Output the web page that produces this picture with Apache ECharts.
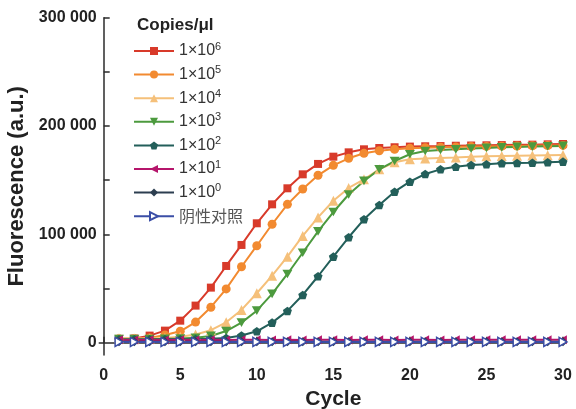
<!DOCTYPE html>
<html><head><meta charset="utf-8">
<script src="https://cdn.jsdelivr.net/npm/echarts@6/dist/echarts.min.js"></script>
<style>html,body{margin:0;padding:0;background:#fff}#c{width:576px;height:409px}</style>
</head><body><div id="c"></div>
<script>
const cycles = [1,2,3,4,5,6,7,8,9,10,11,12,13,14,15,16,17,18,19,20,21,22,23,24,25,26,27,28,29,30];
const yTickValues = [50000,100000,150000,200000,250000,300000];
const yLabelValues = [0,100000,200000,300000];
const seriesNames = ['1×10^6','1×10^5','1×10^4','1×10^3','1×10^2','1×10^1','1×10^0','阴性对照'];
const legendTitle = 'Copies/μl';
const e6 = [3500,3800,6500,11100,20300,34200,50800,70800,90200,110200,127700,142500,155400,165000,171700,175700,178500,179700,180400,181000,181300,181500,181800,182000,182200,182400,182600,182800,183100,183400];
const e5 = [3500,3600,4300,7100,10500,19000,32700,49600,70100,89500,109300,127700,141900,154500,163700,170200,174800,177200,178500,179400,180000,180400,180700,181000,181200,181400,181600,181800,182000,182100];
const e4 = [4000,3800,3800,4300,5500,7500,11500,18800,30200,45600,61800,79400,98500,115600,131000,142800,150800,160000,166500,169300,170000,170500,171000,171700,172000,172300,172600,172800,173000,173200];
const e3 = [3200,3200,3300,3500,3800,4500,6200,10700,18500,29500,45000,63400,83000,102800,120600,136800,149300,160000,167700,173900,176900,177900,178500,179200,179800,180300,180700,181000,181300,181600];
const e2 = [3000,3000,3000,3100,3200,3300,3600,4300,6600,10500,18500,29300,44000,61300,79400,97300,113900,127100,139400,148600,155700,160000,162400,164000,164700,165600,165900,166100,166600,167100];
const e1 = [2600,2500,2600,2500,2600,2500,2600,2500,2600,2600,2500,2600,2500,2600,2600,2500,2600,2600,2500,2600,2600,2500,2600,2600,2700,2600,2600,2700,2600,2700];
const e0 = [900,900,900,900,900,900,900,900,900,900,900,900,900,900,900,900,900,900,900,900,900,900,900,900,900,900,900,900,900,900];
const neg = [700,700,700,700,700,700,700,700,700,700,700,700,700,700,700,700,700,700,700,700,700,700,700,700,700,700,700,700,700,700];

const values = [e6,e5,e4,e3,e2,e1,e0,neg];
const colors = ['#d83a2a','#f28a30','#f5c07a','#4c9a3e','#235f5a','#b5156b','#2c3e50','#3b4ea6'];
const symbols = ['rect','circle','triangle','path://M0,0L2,0L1,1.732Z','path://M1,0L1.951,0.691L1.588,1.809L0.412,1.809L0.049,0.691Z','path://M0,1L1.732,0L1.732,2Z','diamond','path://M0,0L1.732,1L0,2Z'];
const sizes = [8,9,10,10,9,9,9,9];

const FONT = 'Arial, "Liberation Sans", "Noto Sans CJK SC", sans-serif';
const chart = echarts.init(document.getElementById('c'), null, {renderer:'canvas'});

function fmtThousands(v){ return String(v).replace(/\B(?=(\d{3})+(?!\d))/g,' '); }

const series = seriesNames.map((n,i)=>{
  const isNeg = i===7;
  return {
    name: n, type:'line',
    data: cycles.map((c,k)=>[c, values[i][k]]),
    symbol: symbols[i], symbolSize: sizes[i], symbolKeepAspect:true,
    showAllSymbol:true,
    lineStyle:{color:colors[i], width:2},
    itemStyle: isNeg ? {color:'#ffffff', borderColor:colors[i], borderWidth:1.5} : {color:colors[i]},
    emphasis:{disabled:true},
    animation:false
  };
});

chart.setOption({
  animation:false,
  grid:{left:103.7, right:13, top:17.7, bottom:54, containLabel:false, outerBoundsMode:'none'},
  graphic:[{type:'text', left:137, top:17, style:{text:legendTitle, font:'bold 17px '+FONT, fill:'#222'}}],
  legend:{
    orient:'vertical', left:133, top:41, padding:0, itemGap:3.6,
    itemWidth:40, itemHeight:10,
    data: seriesNames,
    formatter: n => { const m = n.match(/^(.*)\^(\d+)$/); return m ? '{a|'+m[1]+'}{s|'+m[2]+'}' : '{c|'+n+'}'; },
    textStyle:{
      fontFamily:FONT, fontSize:16, color:'#333', lineHeight:20,
      rich:{
        a:{fontFamily:FONT, fontSize:16, color:'#333', lineHeight:20},
        s:{fontFamily:FONT, fontSize:11, color:'#333', lineHeight:11, verticalAlign:'top'},
        c:{fontFamily:'"Noto Sans CJK SC", sans-serif', fontSize:16, color:'#555', lineHeight:20}
      }
    }
  },
  xAxis:{
    type:'value', min:0, max:30, interval:5,
    name:'Cycle', nameLocation:'middle', nameGap:30,
    nameTextStyle:{fontFamily:FONT, fontSize:21, fontWeight:'bold', color:'#222'},
    axisLine:{show:true, lineStyle:{color:'#2b2b2b', width:1.5}},
    axisTick:{show:true, inside:true, length:6, lineStyle:{color:'#2b2b2b', width:1.5}},
    axisLabel:{margin:13, fontFamily:FONT, fontSize:16, fontWeight:'bold', color:'#222'},
    splitLine:{show:false}
  },
  yAxis:[{
    type:'value', min:-11400, max:300000, position:'left',
    name:'Fluorescence (a.u.)', nameLocation:'middle', nameGap:71,
    nameTextStyle:{fontFamily:FONT, fontSize:22, fontWeight:'bold', color:'#222'},
    axisLine:{show:true, lineStyle:{color:'#2b2b2b', width:1.5}},
    axisTick:{show:true, inside:true, length:6, customValues:yTickValues, lineStyle:{color:'#2b2b2b', width:1.5}},
    axisLabel:{margin:7, customValues:yLabelValues, formatter:fmtThousands, fontFamily:FONT, fontSize:16, fontWeight:'bold', color:'#222'},
    splitLine:{show:false}
  },{
    type:'value', min:-11400, max:300000, position:'left', offset:0,
    axisLine:{show:false},
    axisTick:{show:true, inside:false, length:5, customValues:[0], lineStyle:{color:'#2b2b2b', width:1.5}},
    axisLabel:{show:false},
    splitLine:{show:false}
  }],
  series: series
});
</script>
</body></html>
